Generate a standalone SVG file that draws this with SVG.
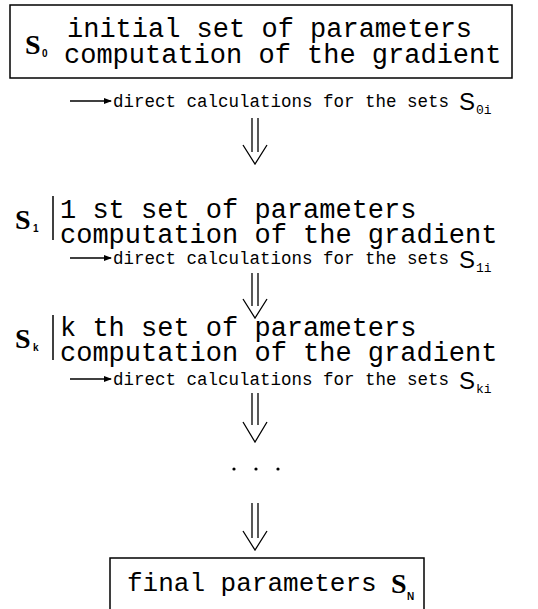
<svg xmlns="http://www.w3.org/2000/svg" width="538" height="609" viewBox="0 0 538 609">
<defs>
<marker id="ah" markerWidth="8" markerHeight="6" refX="7" refY="3" orient="auto" markerUnits="userSpaceOnUse">
<path d="M0,0 L8,3 L0,6 Z" fill="#000"/>
</marker>
<style>
.mono{font-family:"Liberation Mono","Courier New",monospace;fill:#000}
.big{font-size:27px}
.small{font-size:17.5px}
.sub{font-size:13px}
.bS{font-family:"Liberation Serif","Times New Roman",serif;font-weight:bold;font-size:28px;fill:#000}
.bsub{font-family:"Liberation Sans",Arial,sans-serif;font-weight:bold;font-size:10px;fill:#000}
.S{font-family:"Liberation Sans",Arial,sans-serif;font-size:24px;fill:#000}
.box{fill:#fff;stroke:#000;stroke-width:1.5}
.bar{stroke:#000;stroke-width:1.5}
.da{fill:none;stroke:#000;stroke-width:1.3}
.ar{stroke:#000;stroke-width:1.3;marker-end:url(#ah)}
</style>
</defs>
<rect width="538" height="609" fill="#fff"/>

<g id="s0">
<rect class="box" x="10" y="5" width="502" height="73"/>
<text class="bS" x="25" y="54">S</text><text class="bsub" x="42" y="57">0</text>
<text class="mono big" x="67" y="37">initial set of parameters</text>
<text class="mono big" x="64" y="63">computation of the gradient</text>
</g>
<g id="d0">
<text class="mono small" x="113" y="107">direct calculations for the sets</text>
<text class="S" x="459" y="110">S</text><text class="mono sub" x="476" y="114">0i</text>
</g>

<g id="s1">
<text class="bS" x="15" y="229">S</text><text class="bsub" x="33" y="232">1</text>
<line class="bar" x1="53" y1="196" x2="53" y2="240"/>
<text class="mono big" x="60" y="218">1 st set of parameters</text>
<text class="mono big" x="60" y="243">computation of the gradient</text>
</g>
<g id="d1">
<text class="mono small" x="113" y="264">direct calculations for the sets</text>
<text class="S" x="459" y="268">S</text><text class="mono sub" x="476" y="272">1i</text>
</g>

<g id="sk">
<text class="bS" x="15" y="348">S</text><text class="bsub" x="33" y="351">k</text>
<line class="bar" x1="53" y1="315" x2="53" y2="360"/>
<text class="mono big" x="60" y="336">k th set of parameters</text>
<text class="mono big" x="60" y="361">computation of the gradient</text>
</g>
<g id="dk">
<text class="mono small" x="113" y="385">direct calculations for the sets</text>
<text class="S" x="459" y="389">S</text><text class="mono sub" x="476" y="393">ki</text>
</g>

<g id="dots">
<circle cx="234" cy="469" r="1.6"/>
<circle cx="256" cy="469" r="1.6"/>
<circle cx="278" cy="469" r="1.6"/>
</g>

<g id="sN">
<rect class="box" x="110" y="558" width="314" height="60"/>
<text class="mono" style="font-size:26px" x="127" y="591">final parameters</text>
<text class="bS" x="391" y="593">S</text><text class="bsub" x="407" y="600">N</text>
</g>

<g id="connectors">
<line class="ar" x1="70" y1="101" x2="111" y2="101"/>
<line class="ar" x1="70" y1="258" x2="111" y2="258"/>
<line class="ar" x1="70" y1="379" x2="111" y2="379"/>
<path class="da" d="M252,118 V152 M258,118 V152 M243,145 L255,164 L267,145"/>
<path class="da" d="M252,273 V306 M258,273 V306 M243,299 L255,318 L267,299"/>
<path class="da" d="M252,393 V425 M258,393 V425 M243,422 L255,442 L267,422"/>
<path class="da" d="M252,503 V538 M258,503 V538 M243,531 L255,550 L267,531"/>
</g>
</svg>
